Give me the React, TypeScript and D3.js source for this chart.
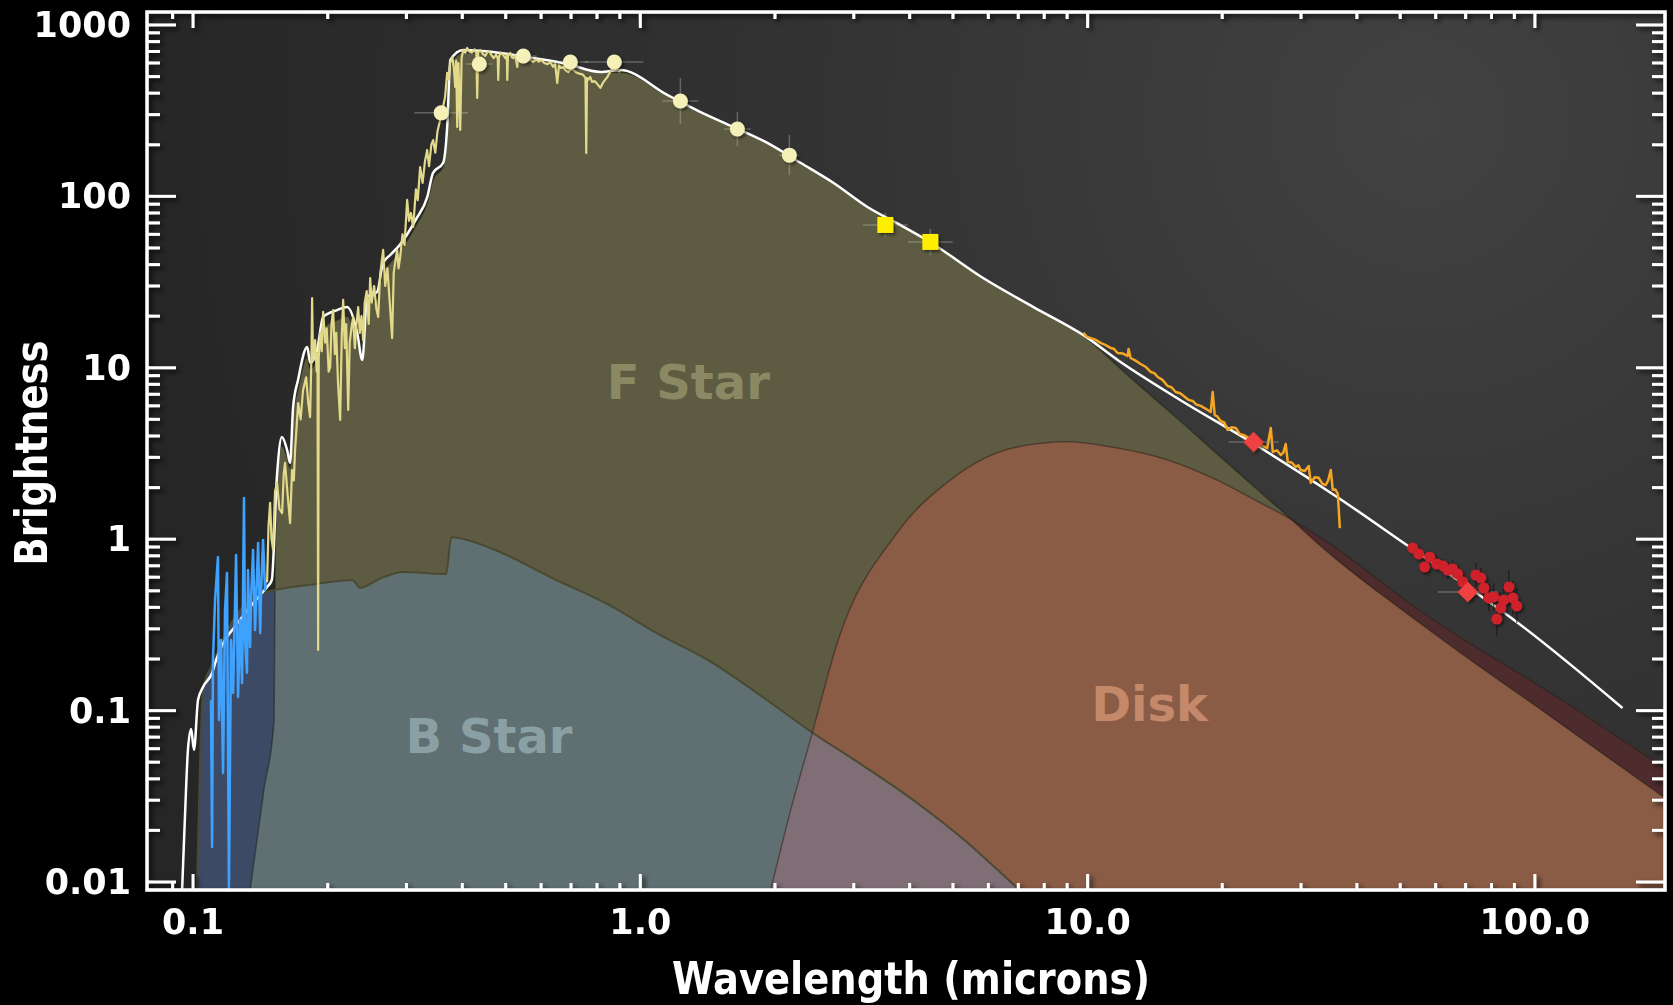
import React from 'react';
import * as d3 from 'd3';

type Pt = [number, number];
type ErrPt = [number, number, number, number]; // wavelength, brightness, x error (dex), y error (dex)

// ---- axes ----
const xDomain: Pt = [0.0789, 195.4];
const yDomain: Pt = [0.00898, 1190];
const xLabelValues = [0.1, 1, 10, 100];
const xLabelText = ['0.1', '1.0', '10.0', '100.0'];
const yLabelValues = [0.01, 0.1, 1, 10, 100, 1000];
const yLabelText = ['0.01', '0.1', '1', '10', '100', '1000'];

// ---- model components (wavelength in microns, brightness) ----
const fStar: Pt[] = [
  [0.134, 0.0088], [0.144, 0.0344], [0.1518, 0.088], [0.1525, 0.6], [0.154, 2.0], [0.158, 3.5],
  [0.1623, 3.0], [0.1648, 2.6], [0.1674, 5.2], [0.1717, 7.5], [0.18, 11.5], [0.1828, 9.8],
  [0.1894, 11.5], [0.1954, 17], [0.21, 19], [0.221, 20], [0.2328, 14.5], [0.239, 11], [0.245, 23],
  [0.258, 25], [0.266, 36], [0.276, 41], [0.29, 48], [0.3155, 68], [0.334, 92], [0.344, 125],
  [0.3625, 150], [0.37, 240], [0.376, 580], [0.402, 690], [0.486, 670], [0.576, 630], [0.687, 585],
  [0.814, 530], [0.902, 530], [1.149, 391], [1.36, 311], [1.614, 254], [1.923, 205], [2.28, 157],
  [2.7, 120], [3.22, 86.7], [3.81, 68.1], [4.44, 54.2], [5.84, 33.4], [7.57, 22.6], [9.8, 15.3],
  [12, 9.58], [14, 6.72], [16.4, 4.7], [19.2, 3.25], [25.3, 1.72], [28.6, 1.3], [33, 0.925],
  [57.6, 0.3], [112, 0.087], [201, 0.0293],
];

const bStar: Pt[] = [
  [0.102, 0.0088], [0.1037, 0.0515], [0.1052, 0.132], [0.1109, 0.19], [0.1229, 0.338],
  [0.1435, 0.485], [0.1526, 0.506], [0.1884, 0.548], [0.227, 0.578], [0.2365, 0.52], [0.262, 0.59],
  [0.295, 0.644], [0.368, 0.627], [0.378, 1.03], [0.404, 1.0], [0.474, 0.865], [0.649, 0.578],
  [0.843, 0.419], [1.096, 0.28], [1.426, 0.195], [1.854, 0.123], [2.413, 0.075], [3.138, 0.048],
  [4.08, 0.03], [5.31, 0.0175], [6.2, 0.0122], [7.1, 0.0088],
];

const disk: Pt[] = [
  [1.953, 0.0088], [2.166, 0.026], [2.413, 0.071], [2.77, 0.258], [3.74, 1.08], [4.93, 2.21],
  [6.83, 3.41], [9.0, 3.7], [11.67, 3.4], [15.1, 2.9], [19.5, 2.21], [23.9, 1.67], [28.6, 1.3],
  [33.2, 1.02], [57.6, 0.356], [112, 0.12], [201, 0.0438],
];

const totalModel: Pt[] = [
  [0.0945, 0.0088], [0.096, 0.0253], [0.0974, 0.0589], [0.099, 0.0782], [0.1005, 0.0589],
  [0.1026, 0.1153], [0.1053, 0.1374], [0.1103, 0.1656], [0.1126, 0.197], [0.1274, 0.338],
  [0.1413, 0.472], [0.1464, 0.526], [0.15, 0.578], [0.154, 2.31], [0.158, 3.95], [0.1623, 3.31],
  [0.1648, 2.79], [0.1674, 5.9], [0.1717, 8.49], [0.18, 13.2], [0.1828, 10.7], [0.1894, 12.7],
  [0.1954, 19.8], [0.21, 21.7], [0.221, 22.6], [0.2328, 16.0], [0.239, 11.1], [0.245, 25.9],
  [0.258, 27.7], [0.266, 40.9], [0.276, 45.5], [0.29, 52.1], [0.3155, 73.8], [0.334, 99.2],
  [0.344, 137], [0.3625, 157], [0.37, 254], [0.376, 625], [0.402, 714], [0.486, 687], [0.576, 641],
  [0.687, 592], [0.814, 532], [0.902, 546], [1.149, 391], [1.36, 311], [1.614, 254], [1.923, 205],
  [2.28, 157], [2.7, 120], [3.22, 86.7], [3.81, 68.1], [4.44, 54.2], [5.84, 33.4], [7.57, 22.6],
  [9.79, 15.5], [11.85, 10.8], [16.1, 6.49], [23.4, 3.64], [36.4, 1.74], [51.7, 0.925],
  [71.9, 0.512], [89.8, 0.338], [157, 0.1035],
];

// ---- observed spectra ----
const uvSpectrum: Pt[] = [
  [0.1097, 0.115], [0.1103, 0.016], [0.1108, 0.197], [0.112, 0.441], [0.1137, 0.787], [0.1143, 0.088],
  [0.1155, 0.258], [0.1167, 0.0432], [0.1179, 0.386], [0.1191, 0.635], [0.1203, 0.0092],
  [0.1216, 0.258], [0.1229, 0.127], [0.1248, 0.809], [0.1261, 0.12], [0.1274, 0.338], [0.1287, 0.145],
  [0.13, 1.74], [0.1307, 0.258], [0.132, 0.166], [0.1327, 0.661], [0.1341, 0.235], [0.1348, 0.441],
  [0.1362, 0.865], [0.1376, 0.295], [0.1398, 0.95], [0.1413, 0.284], [0.142, 0.506], [0.1434, 0.99],
  [0.1449, 0.506], [0.1456, 0.578],
];

const opticalSpectrum: Pt[] = [
  [0.1464, 0.56], [0.1475, 1.2], [0.1487, 1.63], [0.1498, 1.0], [0.151, 0.87], [0.1525, 1.9],
  [0.1541, 2.13], [0.156, 1.5], [0.1582, 1.42], [0.1595, 2.4], [0.1606, 2.79], [0.1625, 1.9],
  [0.1648, 1.24], [0.1665, 2.53], [0.168, 2.2], [0.1691, 3.31], [0.1705, 4.6], [0.1718, 6.23],
  [0.174, 5.0], [0.1762, 7.42], [0.179, 8.8], [0.181, 6.2], [0.1827, 5.16], [0.184, 12],
  [0.1846, 25.5], [0.1855, 11], [0.1875, 14.5], [0.189, 9.5], [0.1898, 12], [0.1904, 0.226],
  [0.191, 11.5], [0.1924, 16.0], [0.194, 12.5], [0.1954, 21.2], [0.1975, 14], [0.199, 17],
  [0.201, 9.5], [0.2026, 10.1], [0.204, 18], [0.2057, 21.7], [0.2075, 12], [0.209, 16], [0.211, 8],
  [0.2133, 4.96], [0.215, 15], [0.2166, 24.9], [0.2185, 13], [0.22, 18], [0.2223, 5.67], [0.224, 14],
  [0.226, 17], [0.228, 19.8], [0.23, 13], [0.232, 18], [0.234, 22.6], [0.236, 16], [0.238, 20],
  [0.2401, 14.5], [0.242, 24], [0.2445, 28], [0.247, 18], [0.2489, 33.4], [0.251, 24], [0.254, 30],
  [0.257, 22], [0.2594, 19.8], [0.262, 35], [0.2661, 48.7], [0.269, 30], [0.272, 38], [0.275, 25],
  [0.2787, 14.9], [0.281, 36], [0.2835, 42], [0.286, 48.7], [0.288, 38], [0.2905, 44.3], [0.294, 60],
  [0.297, 52], [0.3011, 95.3], [0.304, 72], [0.307, 80], [0.3106, 66.3], [0.315, 110], [0.318, 95],
  [0.3219, 148], [0.326, 120], [0.33, 160], [0.3337, 186], [0.337, 150], [0.341, 200], [0.3442, 213],
  [0.348, 180], [0.352, 240], [0.3569, 279], [0.362, 330], [0.366, 380], [0.37, 525], [0.373, 480],
  [0.3758, 600], [0.38, 650], [0.383, 560], [0.3856, 435], [0.3875, 620], [0.3896, 254], [0.392, 600],
  [0.3957, 244], [0.3985, 640], [0.4018, 714], [0.406, 690], [0.4102, 734], [0.415, 700], [0.42, 690],
  [0.426, 720], [0.43, 680], [0.4318, 375], [0.434, 690], [0.4385, 714], [0.444, 680], [0.45, 660],
  [0.456, 700], [0.4617, 687], [0.466, 660], [0.47, 640], [0.476, 670], [0.48, 640], [0.4812, 478],
  [0.483, 650], [0.487, 690], [0.4937, 668], [0.499, 640], [0.503, 670], [0.5041, 478], [0.506, 660],
  [0.5119, 687], [0.516, 650], [0.52, 640], [0.525, 665], [0.5307, 569], [0.534, 660], [0.54, 640],
  [0.5474, 687], [0.553, 655], [0.56, 640], [0.568, 625], [0.5763, 608], [0.585, 630], [0.593, 610],
  [0.6, 625], [0.61, 600], [0.62, 590], [0.629, 608], [0.638, 570], [0.645, 590], [0.652, 459],
  [0.658, 580], [0.665, 560], [0.673, 569], [0.68, 545], [0.69, 530], [0.698, 550], [0.708, 546],
  [0.718, 530], [0.73, 520], [0.742, 515], [0.75, 500], [0.754, 490], [0.757, 179], [0.76, 490],
  [0.765, 480], [0.773, 497], [0.78, 465], [0.79, 470], [0.8, 455], [0.814, 429], [0.825, 460],
  [0.835, 480], [0.844, 497], [0.855, 530], [0.87, 569], [0.88, 560], [0.89, 545], [0.902, 532],
];

const irSpectrum: Pt[] = [
  [9.79, 16.0], [9.95, 15.2], [10.16, 14.9], [10.4, 14.6], [10.69, 13.96], [10.95, 13.6],
  [11.26, 13.05], [11.45, 12.9], [11.67, 12.2], [12.0, 12.1], [12.29, 11.72], [12.35, 12.88],
  [12.48, 11.4], [12.8, 11.0], [13.14, 10.52], [13.5, 10.1], [13.84, 9.45], [14.1, 9.3],
  [14.35, 8.83], [14.7, 8.5], [15.1, 7.83], [15.4, 7.7], [15.74, 7.22], [16.1, 7.1], [16.4, 6.85],
  [16.8, 6.5], [17.18, 6.4], [17.5, 6.1], [17.9, 5.99], [18.3, 5.8], [18.85, 5.52], [19.04, 7.22],
  [19.24, 5.3], [19.5, 5.2], [19.84, 4.89], [20.2, 4.8], [20.57, 4.34], [21.0, 4.5], [21.44, 4.45],
  [21.9, 4.1], [22.34, 4.05], [22.9, 3.9], [23.52, 3.69], [24.1, 3.65], [24.64, 3.5], [25.2, 3.4],
  [25.68, 4.45], [25.94, 3.23], [26.5, 3.3], [27.03, 3.1], [27.4, 3.2], [27.73, 3.59], [28.02, 2.82],
  [28.6, 2.8], [29.2, 2.64], [29.6, 2.7], [29.96, 2.53], [30.6, 2.5], [31.22, 2.67], [31.54, 2.13],
  [32.2, 2.3], [32.87, 2.28], [33.5, 2.1], [34.08, 2.07], [34.5, 2.2], [34.97, 2.53], [35.33, 1.94],
  [35.8, 1.95], [36.26, 1.84], [36.64, 1.16],
];

// ---- photometry ----
const opticalPhotometry: ErrPt[] = [
  [0.3587, 307, 0.06, 0], [0.4364, 592, 0.03, 0], [0.5474, 659, 0.03, 0], [0.6973, 608, 0.04, 0],
  [0.8745, 608, 0.065, 0], [1.229, 360, 0.04, 0.134], [1.648, 247, 0.03, 0.1], [2.154, 174, 0.022, 0.117],
];
const iracPhotometry: ErrPt[] = [[3.53, 68.1, 0.05, 0.07], [4.45, 54.2, 0.05, 0.077]];
const mipsPhotometry: ErrPt[] = [[23.5, 3.69, 0.056, 0], [70.8, 0.492, 0.067, 0]];
const farIrSed: ErrPt[] = [
  [53.3, 0.889, 0, 0.03], [55.0, 0.82, 0, 0.03], [58.2, 0.787, 0, 0.04], [56.7, 0.689, 0, 0.04],
  [60.4, 0.716, 0, 0.04], [62.3, 0.698, 0, 0.04], [63.9, 0.661, 0, 0.05], [65.5, 0.67, 0, 0.05],
  [67.2, 0.627, 0, 0.05], [69.0, 0.562, 0, 0.06], [73.8, 0.618, 0, 0.07], [75.7, 0.594, 0, 0.06],
  [76.9, 0.519, 0, 0.07], [78.9, 0.454, 0, 0.08], [80.9, 0.46, 0, 0.08], [82.2, 0.342, 0, 0.1],
  [83.9, 0.397, 0, 0.09], [85.2, 0.442, 0, 0.09], [87.5, 0.526, 0, 0.1], [89.3, 0.454, 0, 0.1],
  [91.1, 0.408, 0, 0.1],
];

// ---- component labels ----
const componentLabels: { text: string; at: Pt; color: string }[] = [
  { text: 'F Star', at: [1.28, 8.3], color: '#8b8963' },
  { text: 'B Star', at: [0.459, 0.0711], color: '#8aa0a4' },
  { text: 'Disk', at: [13.76, 0.109], color: '#c4886a' },
];

const font = '"DejaVu Sans", Verdana, sans-serif';

export default function App() {
  const W = 1673;
  const H = 1005;
  const left = 147, right = 1665, top = 12, bottom = 890;

  const x = d3.scaleLog().domain(xDomain).range([left, right]);
  const y = d3.scaleLog().domain(yDomain).range([bottom, top]);

  const area = d3.area<Pt>().x(d => x(d[0])).y0(bottom).y1(d => y(d[1])).curve(d3.curveMonotoneX);
  const smooth = d3.line<Pt>().x(d => x(d[0])).y(d => y(d[1])).curve(d3.curveMonotoneX);
  const jagged = d3.line<Pt>().x(d => x(d[0])).y(d => y(d[1]));

  const fPath = area(fStar) || '';
  const bPath = area(bStar) || '';
  const dPath = area(disk) || '';

  const isMajor = (v: number) => Math.abs(Math.log10(v) - Math.round(Math.log10(v))) < 1e-6;
  const xt = x.ticks().filter(v => x(v) > left + 3 && x(v) < right - 3);
  const yt = y.ticks().filter(v => y(v) > top + 3 && y(v) < bottom - 3);

  const errBars = (pts: ErrPt[], color: string) =>
    pts.map((p, i) => (
      <g key={i} stroke={color} strokeWidth={1.5}>
        {p[2] > 0 && (
          <line x1={x(p[0] / Math.pow(10, p[2]))} x2={x(p[0] * Math.pow(10, p[2]))} y1={y(p[1])} y2={y(p[1])} />
        )}
        {p[3] > 0 && (
          <line x1={x(p[0])} x2={x(p[0])} y1={y(p[1] / Math.pow(10, p[3]))} y2={y(p[1] * Math.pow(10, p[3]))} />
        )}
      </g>
    ));

  const diamond = d3.symbol().type(d3.symbolSquare).size(210)() || '';
  const square = d3.symbol().type(d3.symbolSquare).size(256)() || '';

  return (
    <div>
      <style>{'html,body{margin:0;padding:0;background:#000;}'}</style>
      <svg width={W} height={H} style={{ display: 'block', background: '#000' }}>
        <defs>
          <radialGradient id="bg" gradientUnits="userSpaceOnUse" cx={1420} cy={120} r={1300}>
            <stop offset="0" stopColor="#424242" />
            <stop offset="0.45" stopColor="#333333" />
            <stop offset="1" stopColor="#262626" />
          </radialGradient>
          <clipPath id="plot"><rect x={left} y={top} width={right - left} height={bottom - top} /></clipPath>
          <clipPath id="clipF"><path d={fPath} /></clipPath>
          <clipPath id="clipB"><path d={bPath} /></clipPath>
          <filter id="shadow" x="-5%" y="-5%" width="110%" height="110%">
            <feDropShadow dx="3" dy="3" stdDeviation="2.5" floodColor="#000" floodOpacity="0.75" />
          </filter>
          <filter id="mshadow" x="-50%" y="-50%" width="200%" height="200%">
            <feDropShadow dx="2" dy="2" stdDeviation="1.5" floodColor="#000" floodOpacity="0.5" />
          </filter>
        </defs>

        <rect x={left} y={top} width={right - left} height={bottom - top} fill="url(#bg)" />

        <g clipPath="url(#plot)">
          {/* F star alone */}
          <path d={fPath} fill="#5d5c42" />
          {/* B star alone and where it sits under the F star */}
          <path d={bPath} fill="#3c4a66" />
          <g clipPath="url(#clipF)"><path d={bPath} fill="#5f6f72" /></g>
          {/* disk, and its overlaps */}
          <path d={dPath} fill="#4e2b2c" />
          <g clipPath="url(#clipF)"><path d={dPath} fill="#8a5c46" /></g>
          <g clipPath="url(#clipF)"><g clipPath="url(#clipB)"><path d={dPath} fill="#7f6e75" /></g></g>

          <path d={smooth(fStar) || ''} fill="none" stroke="rgba(30,30,18,0.5)" strokeWidth={1.5} />
          <path d={smooth(bStar) || ''} fill="none" stroke="#4a4a32" strokeWidth={2} />
          <path d={smooth(disk) || ''} fill="none" stroke="rgba(40,30,25,0.45)" strokeWidth={1.5} />

          {componentLabels.map(l => (
            <text key={l.text} x={x(l.at[0])} y={y(l.at[1])} fill={l.color} fontFamily={font}
              fontWeight="bold" fontSize={48} textAnchor="middle" dominantBaseline="central">
              {l.text}
            </text>
          ))}

          <path d={smooth(totalModel) || ''} fill="none" stroke="#ffffff" strokeWidth={2.5} />
          <path d={jagged(uvSpectrum) || ''} fill="none" stroke="#3fa2ff" strokeWidth={2.5} strokeLinejoin="round" />
          <path d={jagged(opticalSpectrum) || ''} fill="none" stroke="#e2d98b" strokeWidth={2.2} strokeLinejoin="round" />
          <path d={jagged(irSpectrum) || ''} fill="none" stroke="#f5a623" strokeWidth={2.5} strokeLinejoin="round" />

          {errBars(opticalPhotometry, 'rgba(200,200,190,0.35)')}
          {errBars(iracPhotometry, 'rgba(200,200,190,0.35)')}
          {errBars(mipsPhotometry, 'rgba(150,150,150,0.5)')}
          {errBars(farIrSed, 'rgba(20,20,20,0.6)')}

          <g filter="url(#mshadow)">
            {opticalPhotometry.map((p, i) => (
              <circle key={i} cx={x(p[0])} cy={y(p[1])} r={7.5} fill="#f4f0b8" />
            ))}
            {iracPhotometry.map((p, i) => (
              <path key={i} d={square} transform={`translate(${x(p[0])},${y(p[1])})`} fill="#ffee00" />
            ))}
            {farIrSed.map((p, i) => (
              <circle key={i} cx={x(p[0])} cy={y(p[1])} r={5.5} fill="#d0202a" />
            ))}
            {mipsPhotometry.map((p, i) => (
              <path key={i} d={diamond} transform={`translate(${x(p[0])},${y(p[1])}) rotate(45)`} fill="#f04040" />
            ))}
          </g>
        </g>

        {/* frame and ticks */}
        <g filter="url(#shadow)" stroke="#ffffff" strokeWidth={3}>
          {yt.map(v => {
            const len = isMajor(v) ? 29 : 13;
            return (
              <g key={'y' + v}>
                <line x1={left} x2={left + len} y1={y(v)} y2={y(v)} />
                <line x1={right} x2={right - len} y1={y(v)} y2={y(v)} />
              </g>
            );
          })}
          {xt.map(v => {
            const len = isMajor(v) ? 16 : 7;
            return (
              <g key={'x' + v}>
                <line x1={x(v)} x2={x(v)} y1={bottom} y2={bottom - len} />
                <line x1={x(v)} x2={x(v)} y1={top} y2={top + len} />
              </g>
            );
          })}
          <rect x={left} y={top} width={right - left} height={bottom - top} fill="none" strokeWidth={3.5} />
        </g>

        <g fill="#ffffff" fontFamily={font} fontWeight="bold" fontSize={35}>
          {yLabelValues.map((v, i) => (
            <text key={'yl' + v} x={131} y={y(v)} textAnchor="end" dominantBaseline="central">{yLabelText[i]}</text>
          ))}
          {xLabelValues.map((v, i) => (
            <text key={'xl' + v} x={x(v)} y={934} textAnchor="middle">{xLabelText[i]}</text>
          ))}
        </g>

        <text x={911} y={994} fill="#ffffff" fontFamily={font} fontWeight="bold" fontSize={44}
          textAnchor="middle" textLength={478} lengthAdjust="spacingAndGlyphs">
          Wavelength (microns)
        </text>
        <text transform="translate(47,453) rotate(-90)" fill="#ffffff" fontFamily={font} fontWeight="bold"
          fontSize={44} textAnchor="middle" textLength={225} lengthAdjust="spacingAndGlyphs">
          Brightness
        </text>
      </svg>
    </div>
  );
}
